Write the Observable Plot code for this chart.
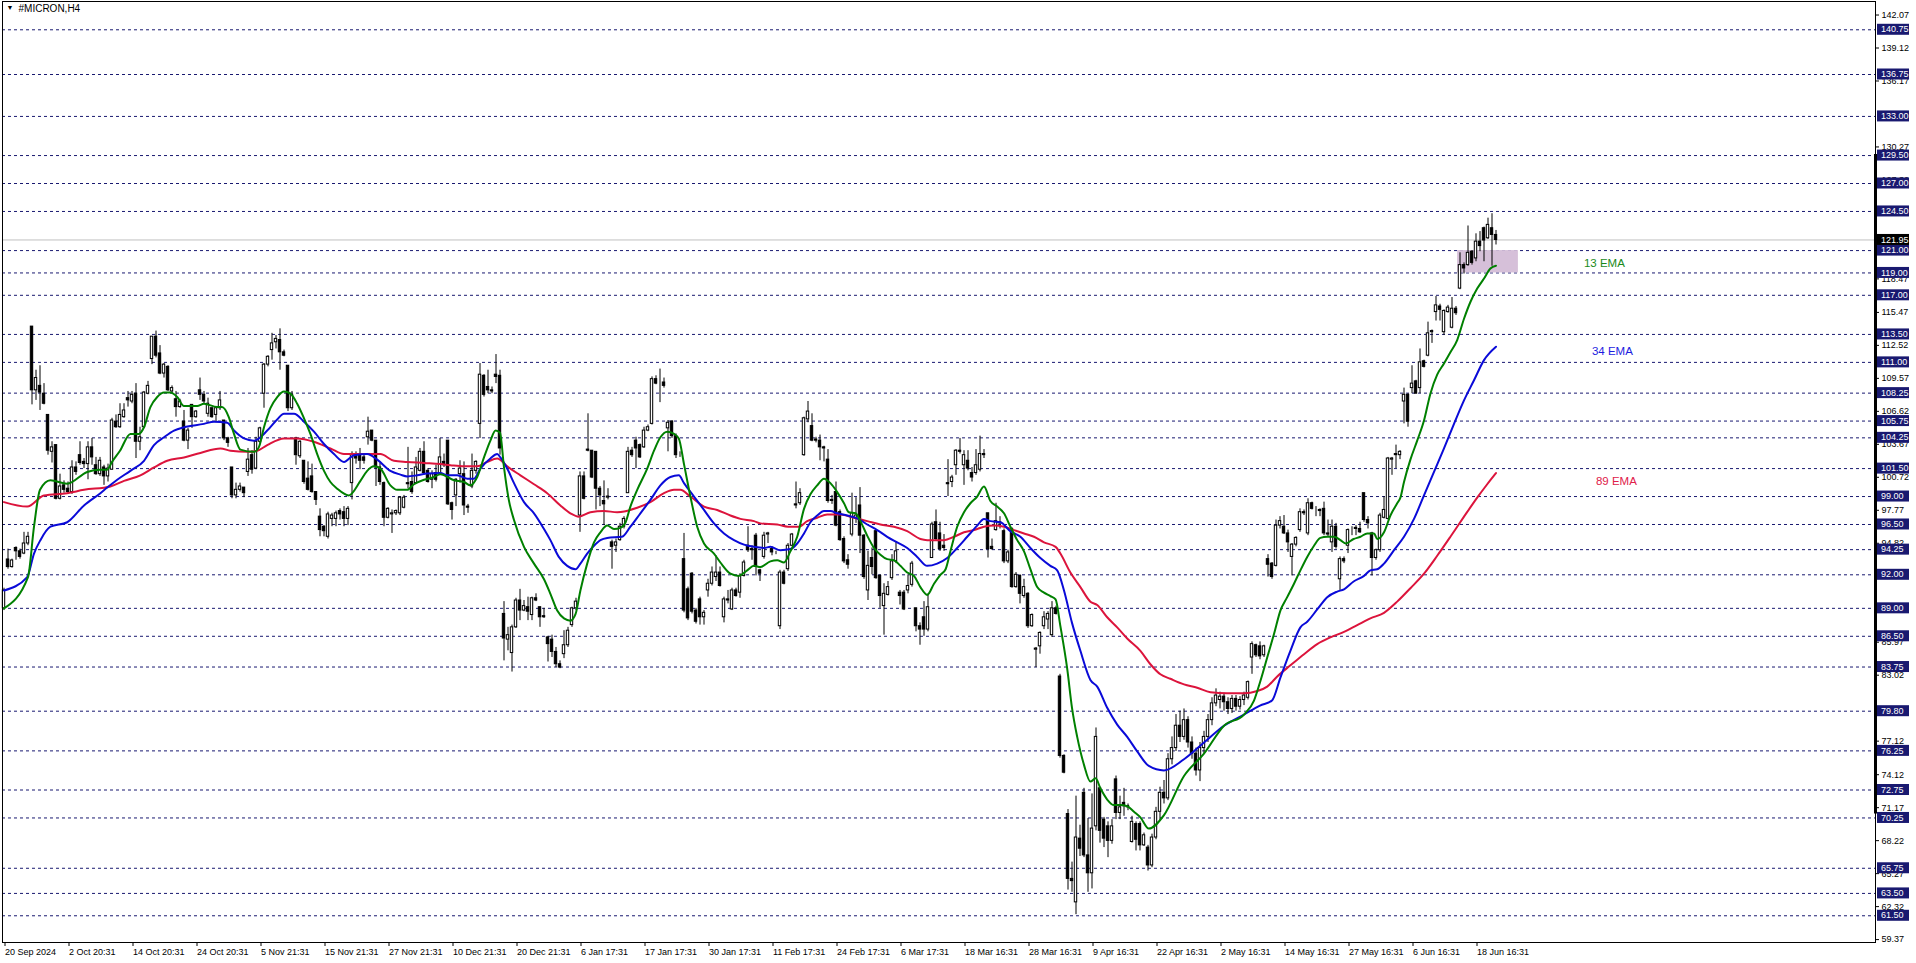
<!DOCTYPE html>
<html>
<head>
<meta charset="utf-8">
<script src="https://cdn.jsdelivr.net/npm/d3@7"></script>
<script src="https://cdn.jsdelivr.net/npm/@observablehq/plot@0.6"></script>
<style>
  html, body { margin: 0; padding: 0; background: #fff; }
  #chart svg { display: block; }
</style>
</head>
<body>
<div id="chart"></div>
<script>
// ---------------- DATA ----------------
const symbolTitle = "#MICRON,H4";

const opens = [
89.0,93.37,92.69,94.4,94.1,93.9,94.8,114.2,108.5,108.9,
108.2,106.3,103.0,103.6,98.8,100.0,99.7,99.4,101.6,102.7,
102.1,101.9,103.4,101.8,101.0,101.6,100.8,101.4,105.7,105.2,
106.1,107.8,107.5,108.2,103.9,105.2,108.2,111.3,113.3,111.8,
110.0,110.6,108.4,107.7,107.0,105.7,104.0,107.2,106.1,108.5,
108.1,106.4,106.9,106.3,106.9,105.8,104.2,101.6,99.1,99.6,
99.8,101.2,102.7,101.5,103.9,108.2,110.8,112.1,112.8,113.0,
111.9,110.7,106.9,104.2,102.6,102.2,100.6,100.8,99.4,97.2,
96.3,95.4,97.0,97.0,97.7,97.6,97.0,100.2,102.7,102.7,
102.5,104.3,104.9,104.0,101.6,100.2,97.1,97.4,97.5,97.5,
98.0,100.2,100.3,100.2,101.3,103.0,101.3,100.5,101.1,101.1,
102.1,104.0,98.4,99.1,101.0,101.0,98.1,99.9,101.3,105.5,
109.8,108.8,108.5,109.9,109.8,88.5,86.2,85.0,87.3,89.7,
88.8,89.1,88.4,89.9,89.1,88.3,86.4,86.2,85.1,84.0,
84.9,85.7,87.5,89.0,97.3,100.8,103.2,103.1,103.0,99.7,
98.6,98.9,94.9,94.6,95.1,96.3,99.3,103.1,104.0,103.6,
103.4,104.9,105.5,109.5,109.4,109.2,105.1,105.7,104.4,102.8,
93.4,90.7,92.1,88.8,89.8,88.2,90.6,91.2,91.8,92.2,
88.2,89.8,88.9,90.6,90.4,91.9,94.6,94.3,95.5,92.4,
93.6,95.6,94.3,94.0,87.4,92.2,92.5,94.6,98.3,98.4,
102.7,105.9,105.3,104.1,104.0,103.4,102.3,98.7,99.4,97.6,
95.2,93.3,95.6,97.0,98.2,95.5,90.6,93.5,95.9,91.9,
89.2,90.2,91.7,93.2,90.4,90.4,90.6,91.1,89.0,87.4,
88.2,87.1,93.5,96.7,95.7,94.6,100.2,100.3,101.8,103.1,
101.8,102.2,101.1,101.1,101.4,102.8,97.5,94.5,96.0,96.7,
95.9,93.2,96.1,90.9,91.9,90.1,90.3,87.4,85.3,85.6,
87.4,88.0,86.6,89.0,82.9,75.8,70.6,64.8,62.7,68.4,
72.5,66.9,65.3,69.5,72.9,70.1,69.5,68.2,73.7,70.7,
71.6,71.3,68.1,69.7,69.7,67.8,67.6,66.0,68.5,70.8,
72.5,72.0,75.5,76.5,78.5,77.5,79.0,77.0,76.0,74.5,
76.5,77.5,79.0,80.5,80.8,81.1,80.6,80.0,80.9,80.2,
80.8,81.0,84.6,85.7,85.6,84.8,93.4,93.0,92.8,96.4,
96.3,95.7,93.6,94.7,96.0,97.6,95.7,98.4,97.7,97.8,
97.9,95.7,94.9,96.3,91.6,93.4,94.6,96.0,96.2,96.1,
99.3,96.9,95.7,93.5,94.2,97.1,97.0,102.3,102.8,102.7,
107.5,108.1,108.7,109.3,108.7,111.1,111.6,113.7,115.5,116.0,
113.7,115.5,114.1,115.8,117.6,119.7,119.7,120.9,120.3,121.8,
123.0,122.1,123.0,122.4];

const highs = [
90.8,94.3,93.4,94.5,94.3,95.8,95.8,114.2,110.3,110.7,
109.1,106.3,103.9,103.6,101.0,100.4,100.3,102.2,102.1,103.9,
102.4,103.9,104.2,102.5,102.5,101.8,101.9,106.0,106.3,107.3,
107.3,108.4,108.4,109.1,105.2,108.4,109.3,113.3,113.8,112.5,
110.9,110.7,108.9,108.4,107.7,106.7,105.1,107.2,106.7,109.6,
108.4,107.8,106.9,107.0,108.4,105.8,104.3,101.6,100.2,100.2,
99.8,103.3,103.1,104.3,105.2,110.9,111.6,113.6,113.4,114.0,
112.1,110.7,108.4,104.3,104.0,102.2,102.1,101.9,99.4,97.9,
96.4,97.6,97.5,97.7,97.9,98.1,98.1,103.0,103.0,103.3,
102.8,106.1,104.9,104.0,102.0,100.3,98.0,97.8,97.8,99.0,
99.1,103.4,101.2,102.5,103.3,103.9,101.5,101.3,101.8,104.2,
102.8,104.0,98.5,100.6,102.2,102.1,98.3,102.8,102.2,110.9,
109.9,110.3,108.8,111.7,110.3,89.6,87.3,87.5,89.9,90.7,
89.7,90.0,90.0,90.3,89.1,89.0,86.5,86.6,85.5,84.3,
87.0,87.3,89.1,89.9,101.2,101.2,106.4,103.1,103.0,99.9,
100.4,99.7,95.1,95.2,96.6,97.2,103.4,103.4,104.3,103.7,
105.2,105.4,109.7,109.8,110.4,109.6,105.8,105.8,104.6,103.0,
95.7,90.9,92.2,89.0,90.0,88.8,91.6,92.7,93.7,92.7,
90.0,90.6,90.8,90.8,92.1,93.3,96.3,94.6,95.7,92.5,
95.8,95.8,94.5,94.1,92.4,92.4,94.8,95.7,100.3,99.7,
106.1,107.5,106.4,104.3,104.5,103.5,103.2,99.1,100.3,97.8,
95.4,93.8,99.3,98.9,99.8,95.6,94.1,94.4,96.0,92.0,
91.2,91.4,93.8,94.9,90.6,90.6,92.0,93.2,89.0,87.7,
89.6,90.3,96.7,97.8,96.7,95.6,102.3,100.9,103.2,104.2,
103.1,103.1,101.6,103.2,104.4,103.2,97.5,95.2,98.4,97.2,
96.1,94.2,96.2,92.2,92.0,91.6,90.4,88.5,85.5,86.9,
88.7,88.7,89.6,89.2,83.1,75.9,71.0,66.3,72.2,69.6,
72.9,70.2,72.4,78.3,73.0,70.3,69.9,70.1,74.0,72.2,
72.9,71.5,70.4,69.9,69.9,68.9,67.8,68.8,71.2,73.0,
73.6,76.0,77.5,79.5,79.8,80.0,79.3,77.5,76.5,77.0,
78.0,79.5,81.0,81.8,81.5,81.4,81.0,81.2,81.2,81.1,
81.5,82.5,86.0,85.8,86.0,85.7,93.8,93.1,96.9,97.2,
97.3,96.0,94.8,95.4,97.9,97.8,98.8,98.5,98.1,97.9,
98.5,96.9,96.9,96.6,93.6,93.6,96.1,96.3,96.4,96.7,
99.3,97.2,95.8,94.3,97.5,99.0,102.5,102.5,103.6,103.1,
108.7,108.2,110.7,109.4,112.2,111.2,114.6,113.9,116.9,116.2,
115.7,116.1,116.8,116.0,120.8,119.9,123.2,121.0,122.5,122.7,
123.1,123.9,124.3,122.8];

const lows = [
88.8,92.5,92.6,93.3,93.4,93.8,94.6,107.2,107.6,106.7,
107.2,102.7,102.0,98.7,98.7,99.3,99.2,99.2,100.9,101.8,
101.5,100.5,101.8,100.9,100.8,100.0,100.3,101.35,105.1,105.1,
106.0,107.0,107.3,102.4,103.1,105.1,108.1,110.8,111.4,109.9,
109.6,108.4,108.2,106.1,106.9,103.9,103.2,105.1,106.0,107.6,
107.3,106.1,106.0,105.7,106.7,104.0,103.4,98.8,98.8,99.4,
98.9,100.8,101.0,101.4,103.7,106.9,110.6,111.2,112.2,110.3,
111.5,106.6,106.7,101.8,102.4,100.1,99.5,99.3,98.2,95.4,
95.4,95.2,96.3,96.3,96.9,96.3,96.4,98.7,101.9,101.4,
101.9,103.6,103.9,99.9,100.0,96.3,97.0,95.7,97.3,97.3,
97.9,99.7,99.2,100.1,101.2,100.9,100.2,99.7,100.3,101.0,
101.6,98.2,96.9,98.1,100.2,97.3,97.5,99.7,101.0,104.2,
107.9,108.2,108.2,109.1,102.7,84.3,85.2,83.3,87.2,87.9,
88.7,87.9,87.9,89.6,87.3,88.1,84.2,84.6,83.7,83.6,
84.5,85.5,87.3,88.8,95.8,98.7,103.0,100.6,97.8,98.1,
96.4,98.7,92.5,94.0,95.0,96.1,99.3,102.5,101.5,102.4,
103.3,104.8,105.4,109.0,107.4,108.7,103.0,104.2,102.4,102.5,
88.6,87.9,88.5,87.6,87.5,87.5,90.0,91.0,91.4,90.9,
87.7,89.4,88.8,90.0,89.9,91.8,94.0,93.3,91.9,91.4,
93.4,94.8,93.7,93.8,87.1,91.1,92.3,94.5,97.9,98.2,
102.6,105.6,103.9,103.8,102.2,102.1,98.4,98.3,96.3,95.0,
93.0,92.5,95.4,96.6,93.9,91.6,89.7,92.0,91.6,89.0,
86.6,90.1,91.5,93.0,89.3,88.8,90.3,90.9,86.9,85.7,
86.5,86.9,93.5,95.0,94.1,94.1,99.0,99.8,100.9,102.8,
100.0,101.3,100.3,100.9,101.2,102.4,93.5,94.2,95.9,96.1,
93.0,93.0,90.8,90.8,89.4,89.9,87.2,87.3,83.7,84.9,
87.1,87.1,86.4,88.4,75.6,74.2,63.8,63.6,61.6,66.8,
66.7,63.6,63.9,69.1,68.0,67.6,66.7,67.9,70.1,70.1,
70.4,70.9,68.0,67.3,67.3,67.7,65.5,65.8,68.3,70.0,
71.5,71.8,75.0,76.2,77.0,77.2,76.5,75.5,74.0,73.5,
76.0,77.0,78.5,80.2,80.0,79.8,79.5,79.6,79.8,79.9,
80.3,80.8,83.1,84.6,84.4,84.6,91.8,91.6,92.7,96.1,
95.6,94.0,91.9,94.5,95.8,97.3,95.5,97.8,97.2,97.2,
95.5,95.4,94.0,94.3,90.6,93.0,93.9,95.5,95.5,95.7,
96.7,96.1,91.9,93.3,94.0,97.0,96.9,100.9,101.5,102.3,
105.5,105.2,108.2,108.2,108.2,110.5,111.5,112.7,114.7,114.7,
113.4,115.4,114.0,115.2,117.5,118.9,119.6,119.7,120.0,120.9,
120.0,122.0,119.6,121.5];

const closes = [
90.6,92.69,93.28,94.1,93.6,94.8,95.4,108.5,109.6,108.3,
107.3,103.1,103.4,98.8,99.9,99.6,99.4,101.6,101.2,102.0,
101.9,103.4,102.5,101.0,102.2,100.8,101.5,105.8,105.2,106.3,
106.7,107.6,108.1,103.9,104.3,108.3,108.9,113.3,111.6,110.0,
110.8,108.5,108.7,107.0,107.5,104.0,104.9,106.1,106.6,108.1,
107.5,107.3,106.1,106.9,107.6,104.2,103.8,99.1,99.6,99.9,
99.3,102.3,101.4,103.9,105.1,110.8,111.5,112.7,113.1,111.9,
111.6,106.9,108.1,102.7,103.9,100.3,99.6,99.4,98.7,96.0,
95.9,97.4,97.3,97.5,97.4,97.0,97.9,102.8,102.4,102.2,
102.2,104.8,104.0,101.6,100.3,97.1,97.9,97.5,97.7,98.9,
98.9,100.1,99.4,101.6,103.0,101.1,100.3,101.0,100.5,102.5,
101.8,98.3,97.8,100.5,101.5,98.2,98.0,101.3,102.1,109.9,
108.1,108.5,108.4,109.7,103.3,86.3,86.6,87.3,89.7,88.8,
89.2,88.7,89.9,89.7,88.2,88.2,85.8,85.1,84.0,83.7,
85.7,87.0,89.0,89.6,100.8,98.8,103.1,100.7,99.7,99.1,
98.3,99.0,94.5,94.9,96.3,97.0,103.0,102.7,103.3,102.5,
104.9,105.2,109.5,109.1,109.4,108.9,105.6,104.4,102.7,102.8,
88.8,88.1,88.7,87.8,88.2,88.6,91.2,92.2,92.2,91.0,
89.8,89.7,90.6,90.1,91.9,93.1,94.2,94.2,92.7,92.1,
95.5,95.7,94.0,94.0,92.2,91.2,94.6,95.6,98.2,99.3,
106.0,106.6,104.0,104.0,103.4,103.3,98.6,98.6,96.4,95.1,
93.2,92.9,97.5,97.3,95.5,91.8,92.8,92.7,91.7,90.1,
90.3,90.9,93.2,94.1,90.1,88.9,91.0,93.0,87.4,87.1,
87.1,89.1,96.5,95.2,94.3,94.4,100.1,100.7,103.1,103.0,
102.7,101.5,100.7,101.8,102.8,102.7,94.3,94.3,96.8,96.6,
93.2,94.0,90.9,92.0,90.3,90.9,87.4,88.4,85.4,86.8,
88.2,88.5,89.0,88.5,75.8,74.3,64.8,64.6,68.5,67.5,
66.9,65.3,69.3,77.5,69.1,68.4,68.2,69.5,70.7,71.2,
71.3,71.2,69.9,68.3,67.8,68.7,66.0,68.5,70.8,72.5,
72.0,75.5,76.5,78.5,77.5,79.0,77.0,76.0,74.5,76.5,
77.5,79.0,80.5,81.2,81.1,80.6,80.0,80.9,80.2,80.8,
81.2,82.4,85.8,84.8,84.7,85.6,92.9,91.8,96.4,96.8,
95.7,94.9,94.7,95.3,97.6,97.5,98.4,97.9,97.7,97.7,
95.7,95.6,96.3,94.5,93.4,93.2,96.0,96.0,96.1,95.8,
96.9,96.6,93.5,94.2,97.3,97.8,102.4,102.4,102.7,103.0,
108.1,105.7,109.1,108.2,111.0,110.6,113.6,113.8,116.1,115.7,
115.6,115.9,115.8,115.4,119.7,119.4,120.8,119.9,121.8,121.4,
121.9,123.3,122.4,121.95];

// moving averages: [bar index, price]
const ema13 = [[0,89.0],[6,91.8],[7.5,96.3],[9,99.6],[11.6,100.45],[15.8,100.15],[20.8,101.2],[24,101.4],[25.8,101.4],[27,102.1],[29,103.1],[31.6,104.6],[33.7,104.6],[35,105.2],[36.6,107.0],[38.3,107.9],[40,108.3],[41.6,108.3],[43.3,107.9],[45,107.1],[48.3,107.1],[50,107.3],[53.3,107.0],[54.5,107.0],[56.2,106.1],[57.5,104.6],[59.1,103.2],[62.5,103.0],[63.7,103.4],[65,105.2],[66.6,106.9],[68.3,107.9],[70,108.4],[71.6,108.2],[73.3,107.3],[75,106.0],[76.6,104.6],[78.3,102.8],[80,101.3],[81.6,100.3],[83.3,99.7],[86.2,99.1],[89.1,100.4],[90.8,101.3],[92.5,101.7],[94.1,101.5],[96.6,100.0],[98.3,99.6],[100.8,99.6],[102.5,100.1],[105,100.5],[107.5,100.75],[109.1,101.0],[112.5,100.45],[115,100.3],[116.6,100.0],[118.3,100.75],[120,102.5],[121.6,104.0],[122.9,104.9],[124,104.7],[125,101.6],[126.2,98.7],[127.5,96.9],[130,94.5],[132.5,93.0],[135,91.6],[136.6,90.3],[138.3,88.8],[140,88.1],[141.6,87.9],[142.9,88.5],[144.1,90.6],[145.8,93.0],[147.5,94.9],[149.1,95.8],[150.8,96.4],[152.5,96.1],[154.1,96.2],[155.4,96.7],[156.6,98.1],[158.3,99.6],[160.8,101.5],[162.5,103.1],[164.1,104.3],[165.8,104.8],[167.5,104.6],[168.7,104.2],[170,101.9],[171.6,99.0],[173.3,96.3],[175,94.8],[177.5,93.9],[179.1,93.1],[181.6,92.1],[183.7,91.9],[185.8,92.4],[187.5,92.8],[189.1,92.7],[191.6,93.2],[193.3,93.3],[195,93.1],[196.6,94.1],[198.3,95.4],[200,97.9],[201.6,99.2],[203.3,100.0],[205,100.6],[206.6,100.2],[208.3,99.4],[210,98.4],[211.2,97.6],[212.9,97.5],[214.1,96.8],[215.8,95.5],[217.5,94.4],[219.1,93.8],[220.8,93.4],[222.5,93.3],[224.1,92.8],[225.8,92.2],[227.5,91.9],[229.1,90.9],[230.8,90.2],[232.5,91.2],[234.1,92.0],[235.4,92.5],[236.6,94.1],[238.3,96.3],[240,97.6],[241.6,98.4],[243.3,99.0],[245,99.9],[246.6,98.6],[248.3,98.1],[250,97.5],[251.6,96.3],[253.3,95.1],[255,94.1],[256.6,92.5],[258.3,90.9],[260,90.4],[261.6,90.1],[262.9,89.8],[264.1,87.4],[265.8,83.6],[267,80.1],[268.3,77.5],[270,75.0],[271.6,73.5],[272.9,73.8],[274.1,72.9],[275.8,71.9],[277.5,71.4],[279.1,71.4],[280.8,71.3],[282.5,70.8],[284.1,70.3],[286.2,69.3],[290,70.5],[295,74.0],[300,76.0],[305,78.5],[310,79.5],[312.5,80.75],[314.1,82.5],[315.8,84.6],[317.5,86.7],[319.1,88.8],[320.8,90.0],[322.5,91.2],[324.1,92.4],[325.8,93.6],[327.5,94.6],[329.1,95.3],[330.8,95.4],[332.5,95.4],[334.1,95.1],[335.4,94.8],[337.4,95.2],[339.1,95.4],[340.8,95.7],[342.5,95.7],[343.3,95.2],[345,95.8],[346.6,97.3],[348.3,98.4],[349.1,98.9],[350,100.3],[351.6,102.3],[353.3,104.0],[355,105.8],[356.6,108.2],[358.3,109.9],[360,110.9],[361.6,111.9],[363.3,113.0],[365,114.9],[366.6,116.4],[368.3,117.6],[370,118.5],[371.6,119.4],[373,119.65]];

const ema34 = [[0,90.6],[5.8,91.8],[7.5,93.9],[9.1,95.1],[11.6,96.3],[15.8,96.7],[20,98.2],[24.1,99.3],[25.8,99.8],[28.3,100.5],[31.6,101.3],[35,102.2],[37.5,103.6],[40,104.3],[42.5,104.9],[45,105.2],[50,105.5],[52.5,105.7],[55.8,105.6],[57.5,104.9],[60,104.2],[62.5,104.0],[65.8,104.9],[68.3,105.9],[70,106.4],[72.5,106.4],[75,105.7],[77.5,104.8],[80,103.7],[82.5,102.8],[85,102.1],[87.5,102.7],[90.8,102.8],[93.3,102.3],[96.6,101.3],[99.1,100.96],[100.8,100.8],[103.3,100.9],[105.8,101.05],[109.1,101.1],[110.8,100.9],[113.3,100.9],[115.8,100.6],[117.5,100.6],[119.1,101.5],[121.6,102.4],[123.3,102.8],[124.1,102.5],[125.8,101.5],[127.5,100.2],[130,98.5],[132.5,97.5],[135,96.1],[136.6,95.1],[138.7,93.6],[140.8,92.8],[142.9,92.5],[144.1,93.0],[145.8,93.9],[147.5,94.6],[149.1,95.1],[150.8,95.3],[154.5,95.4],[156.6,96.3],[159.1,97.5],[161.6,98.7],[164.1,100.0],[166.6,100.75],[168.7,100.9],[170,100.2],[172.5,99.0],[175,97.8],[177.5,96.6],[180,95.7],[182.5,95.1],[185,94.7],[187.5,94.5],[190,94.4],[191.6,94.5],[194.1,94.2],[196.6,94.3],[198.3,94.8],[200,95.7],[201.6,96.7],[203.3,97.3],[205,97.7],[206.6,97.7],[208.3,97.5],[210.8,97.3],[213.3,97.05],[215.8,96.5],[218.3,96.0],[220.8,95.4],[223.3,94.9],[225.8,94.4],[228.3,93.6],[230.8,92.8],[233.3,93.0],[235.8,93.5],[238.3,94.4],[240.8,95.4],[243.3,96.4],[245,97.0],[246.6,96.8],[249.1,96.7],[251.6,95.9],[254.1,95.4],[256.6,94.4],[259.1,93.5],[261.6,92.8],[263.3,92.4],[265,90.6],[267,87.7],[269.1,85.2],[271.6,82.6],[273.3,82.0],[275.8,80.1],[278.3,78.6],[280.8,77.5],[283.3,76.2],[286.2,74.9],[290,74.5],[295,75.5],[300,77.0],[305,78.5],[310,79.5],[314,80.3],[317,80.75],[319.1,82.8],[321.6,85.2],[324.1,87.3],[325.8,87.8],[328.3,88.9],[330.8,90.0],[333.3,90.5],[335,90.7],[337.4,91.4],[340,91.9],[341.6,92.4],[343.3,92.5],[345,93.0],[347.5,94.2],[350,95.4],[352.5,97.0],[355,99.1],[357.5,101.2],[360,103.3],[362.5,105.5],[365,107.6],[367.5,109.4],[370,111.2],[373,112.4]];

const ema89 = [[0,98.5],[5.8,98.1],[10,99.1],[15.8,99.3],[20,99.6],[26.6,99.9],[30,100.4],[34.1,100.9],[37.5,101.6],[40.8,102.2],[45,102.5],[49.1,102.9],[54.1,103.3],[56.6,103.1],[60.8,103.0],[63.3,103.1],[65.8,103.6],[70,104.2],[73.3,104.2],[77.5,103.9],[81.6,103.3],[85,102.8],[89.1,102.8],[94.1,102.8],[97.5,102.2],[100.8,102.1],[105,102.0],[109.1,101.9],[111.6,101.8],[115,101.7],[118.3,101.7],[120.8,102.1],[123.3,102.4],[125.8,101.7],[129.1,100.9],[132.5,100.1],[135.8,99.3],[139.1,98.2],[141.6,97.5],[143.7,97.2],[146.6,97.6],[150,97.7],[153.3,97.6],[158.3,98.0],[161.6,98.5],[165,99.3],[167.5,99.6],[169.1,99.6],[171.6,99.0],[175,98.1],[178.3,97.8],[181.6,97.3],[184.1,97.0],[187.5,96.8],[189.1,96.6],[193.3,96.5],[196,96.3],[198.7,96.3],[200.8,96.8],[203.3,97.1],[205.8,97.4],[209.1,97.4],[212.5,97.1],[215.8,96.8],[219.1,96.5],[222.5,96.3],[225.8,95.9],[229.1,95.2],[230.8,95.1],[235,95.1],[237.5,95.4],[240,95.8],[242.5,96.0],[245,96.3],[247.5,96.4],[250,96.3],[252.5,96.0],[255,95.7],[257.5,95.4],[260,94.9],[262.9,94.5],[264.1,93.9],[266.6,92.2],[269.1,90.9],[271.6,89.6],[273.3,89.3],[275.8,88.2],[278.3,87.3],[280.8,86.3],[284.1,85.2],[286.6,84.0],[289.1,83.1],[291.6,82.7],[295,82.2],[298.3,81.9],[301.6,81.5],[305.8,81.4],[310,81.4],[313.3,81.6],[315.8,82.0],[318.3,82.9],[321.6,83.9],[325,84.9],[328.3,85.8],[331.6,86.4],[335,86.9],[338.3,87.5],[341.6,88.1],[345,88.6],[348.3,89.6],[351.6,90.8],[355,92.1],[358.3,93.7],[361.6,95.4],[365,97.2],[368.3,98.9],[370.8,100.1],[373,101.1]];

const levels = [140.75,136.75,133.00,129.50,127.00,124.50,121.00,119.00,117.00,113.50,111.00,108.25,105.75,104.25,101.50,99.00,96.50,94.25,92.00,89.00,86.50,83.75,79.80,76.25,72.75,70.25,65.75,63.50,61.50];
// price-scale ticks that stay (at least partly) visible next to the level boxes
const priceTicks = [142.07,139.12,136.17,130.27,127.32,118.47,115.47,112.52,109.57,106.62,103.67,100.72,97.77,94.82,85.97,83.02,77.12,74.12,71.17,68.22,65.27,62.32,59.37];
const currentPrice = 121.95;

const dateTicks = [0,16,32,48,64,80,96,112,128,144,160,176,192,208,224,240,256,272,288,304,320,336,352,368];
const dateLabels = ["20 Sep 2024","2 Oct 20:31","14 Oct 20:31","24 Oct 20:31","5 Nov 21:31","15 Nov 21:31","27 Nov 21:31","10 Dec 21:31","20 Dec 21:31","6 Jan 17:31","17 Jan 17:31","30 Jan 17:31","11 Feb 17:31","24 Feb 17:31","6 Mar 17:31","18 Mar 16:31","28 Mar 16:31","9 Apr 16:31","22 Apr 16:31","2 May 16:31","14 May 16:31","27 May 16:31","6 Jun 16:31","18 Jun 16:31"];

// supply zone rectangle (bars, prices) and right-edge marker (prices)
const zoneBars = [363.4, 378.6];
const zonePrices = [119.0, 121.0];
const markerPrices = [70.6, 129.6];

const emaLabels = [
  {text: "13 EMA", bar: 400.1, price: 119.85, color: "#1a8a1a"},
  {text: "34 EMA", bar: 402.1, price: 112.0, color: "#1c1ce0"},
  {text: "89 EMA", bar: 403.1, price: 100.4, color: "#e0204a"}
];

// ---------------- LAYOUT ----------------
const W = 1916, H = 963;
const mLeft = 2, mRight = 41, mTop = 1, mBottom = 21;
const barPx = 4, firstBarPx = 3.5;
const xDomain = [(mLeft - firstBarPx) / barPx, (W - mRight - firstBarPx) / barPx];
const yDomain = [59.11, 143.28];
const FONT = "'Liberation Sans', Arial, sans-serif";

const bars = d3.range(opens.length).map(i => ({i, o: opens[i], h: highs[i], l: lows[i], c: closes[i]}));

const chart = Plot.plot({
  width: W, height: H,
  marginLeft: mLeft, marginRight: mRight, marginTop: mTop, marginBottom: mBottom,
  x: {domain: xDomain, axis: null},
  y: {domain: yDomain, axis: null},
  color: {type: "identity"},
  style: {fontFamily: FONT, fontSize: "9px", background: "#fff", color: "#000", overflow: "visible"},
  marks: [
    Plot.ruleY(levels, {y: d => d, stroke: "#191970", strokeWidth: 1, strokeDasharray: "3,3"}),
    Plot.ruleY([currentPrice], {y: d => d, stroke: "#c0c0c0", strokeWidth: 1}),
    Plot.rect([0], {x1: () => zoneBars[0], x2: () => zoneBars[1], y1: () => zonePrices[0], y2: () => zonePrices[1], fill: "#d6c0d9"}),
    Plot.ruleX(bars, {x: "i", y1: "l", y2: "h", stroke: "#000", strokeWidth: 1}),
    Plot.rect(bars, {x1: d => d.i - 0.3, x2: d => d.i + 0.3, y1: "o", y2: "c",
      fill: d => d.c >= d.o ? "#fff" : "#000", stroke: "#000", strokeWidth: 1}),
    Plot.line(ema89, {x: d => d[0], y: d => d[1], stroke: "#dc143c", strokeWidth: 2, curve: "monotone-x"}),
    Plot.line(ema34, {x: d => d[0], y: d => d[1], stroke: "#0a0ad8", strokeWidth: 2, curve: "monotone-x"}),
    Plot.line(ema13, {x: d => d[0], y: d => d[1], stroke: "#008000", strokeWidth: 2, curve: "monotone-x"}),
    Plot.text(emaLabels, {x: "bar", y: "price", text: "text", fill: "color", fontSize: 11.5, textAnchor: "middle"}),
    Plot.ruleX([0], {x: () => xDomain[1], y1: () => markerPrices[0], y2: () => markerPrices[1], stroke: "#000", strokeWidth: 3}),
    Plot.frame({stroke: "#000", strokeWidth: 1}),
    Plot.text([symbolTitle], {frameAnchor: "top-left", dx: 16, dy: 3, textAnchor: "start", lineAnchor: "top", fontSize: 10, fill: "#000"}),
    Plot.text(["\u25BC"], {frameAnchor: "top-left", dx: 4, dy: 4, textAnchor: "start", lineAnchor: "top", fontSize: 7, fill: "#000"}),
    Plot.axisY({anchor: "right", ticks: priceTicks, tickFormat: d => d.toFixed(2), tickSize: 3, tickPadding: 3, fontSize: 9, label: null, textAnchor: "start"}),
    Plot.axisX({anchor: "bottom", ticks: dateTicks, tickFormat: d => dateLabels[dateTicks.indexOf(d)], tickSize: 4, tickPadding: 2, textAnchor: "start", dx: 1, fontSize: 9, label: null})
  ]
});

document.getElementById("chart").append(chart);

// level price boxes on the right price scale
const yS = chart.scale("y");
const boxX = W - mRight + 2;
const gL = d3.select(chart).append("g")
  .attr("font-family", FONT).attr("font-size", 9).attr("text-anchor", "start");
function priceBox(v, bg) {
  const py = yS.apply(v);
  gL.append("rect").attr("x", boxX).attr("y", py - 5.5).attr("width", 32).attr("height", 11).attr("fill", bg);
  gL.append("text").attr("x", boxX + 4).attr("y", py).attr("dy", "0.35em")
    .attr("text-anchor", "start").attr("fill", "#fff").text(v.toFixed(2));
}
levels.forEach(v => priceBox(v, "#191970"));
priceBox(currentPrice, "#000");
</script>
</body>
</html>
